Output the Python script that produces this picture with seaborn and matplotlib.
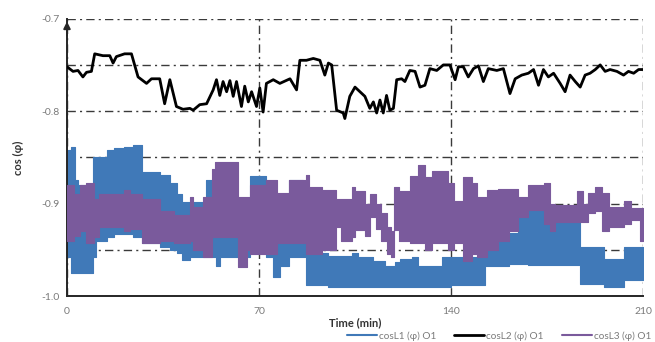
import numpy as np
import pandas as pd
import seaborn as sns
import matplotlib
matplotlib.use("Agg")
import matplotlib.pyplot as plt
from matplotlib.lines import Line2D

# ---- data ----
series_labels = ["cosL1 (φ) O1", "cosL2 (φ) O1", "cosL3 (φ) O1"]
x_ticks = [0, 70, 140, 210]
y_ticks = [-1.0, -0.9, -0.8, -0.7]
y_tick_labels = ["-1.0", "-0.9", "-0.8", "-0.7"]

# L2 (black): a smooth line
l2_t = [0, 2.2, 4.0, 5.8, 7.1, 8.9, 10.1, 13.1, 15.6, 16.8, 18.0, 21.0, 23.5, 25.9, 29.0,
        30.8, 33.8, 35.6, 37.5, 39.9, 42.3, 44.8, 46.0, 48.4, 50.9, 53.3, 54.5, 55.7, 56.9,
        58.2, 59.4, 60.6, 61.8, 63.6, 64.8, 66.1, 67.3, 69.1, 70.3, 71.5, 72.7, 75.2, 77.6,
        81.3, 83.7, 84.9, 87.3, 89.8, 92.2, 94.0, 95.3, 96.5, 98.3, 100.7, 101.3, 103.1,
        105.0, 106.8, 108.6, 110.4, 111.7, 112.9, 114.1, 115.3, 116.5, 117.7, 119.0, 120.2,
        122.0, 123.2, 125.0, 126.9, 128.7, 130.5, 132.3, 134.8, 137.2, 139.6, 141.5, 142.7,
        144.5, 146.3, 148.2, 150.0, 151.8, 153.6, 156.7, 159.1, 161.5, 163.4, 165.8, 168.2,
        170.1, 171.9, 173.7, 175.5, 177.4, 179.8, 181.6, 183.4, 185.3, 187.1, 188.9, 190.7,
        192.6, 194.4, 196.2, 198.0, 200.5, 202.9, 204.7, 206.6, 208.4, 210.0]
l2_v = [-0.752, -0.757, -0.756, -0.763, -0.758, -0.757, -0.738, -0.740, -0.740, -0.748,
        -0.741, -0.738, -0.738, -0.763, -0.770, -0.765, -0.765, -0.792, -0.766, -0.795,
        -0.798, -0.797, -0.799, -0.793, -0.792, -0.777, -0.766, -0.783, -0.768, -0.779,
        -0.767, -0.784, -0.768, -0.795, -0.773, -0.790, -0.779, -0.795, -0.775, -0.801,
        -0.770, -0.766, -0.770, -0.765, -0.777, -0.745, -0.745, -0.743, -0.745, -0.761,
        -0.748, -0.750, -0.799, -0.802, -0.808, -0.784, -0.774, -0.779, -0.784, -0.797,
        -0.790, -0.802, -0.788, -0.802, -0.783, -0.799, -0.797, -0.766, -0.765, -0.768,
        -0.756, -0.757, -0.774, -0.772, -0.754, -0.756, -0.750, -0.750, -0.766, -0.752,
        -0.752, -0.763, -0.754, -0.751, -0.768, -0.754, -0.756, -0.754, -0.781, -0.765,
        -0.761, -0.759, -0.755, -0.772, -0.755, -0.763, -0.759, -0.770, -0.779, -0.761,
        -0.768, -0.774, -0.761, -0.759, -0.755, -0.750, -0.757, -0.755, -0.757, -0.761,
        -0.757, -0.759, -0.755, -0.755]

# L1 (blue) and L3 (purple) oscillate fast: read as upper / lower envelopes per segment
l1_t = [0.0, 1.5, 3.0, 4.0, 9.5, 10.5, 14.5, 17.0, 20.7, 24.0, 27.4, 33.8, 37.4, 40.0,
        42.0, 45.0, 50.5, 54.5, 55.7, 66.6, 72.4, 75.0, 77.5, 81.0, 86.0, 87.2, 95.0,
        103.8, 106.0, 111.5, 116.0, 119.6, 121.5, 125.7, 128.1, 136.6, 140.0, 151.0,
        152.5, 161.0, 164.3, 168.0, 187.2, 195.7, 203.0, 210.0]
l1_hi = [-0.842, -0.839, -0.875, -0.880, -0.850, -0.850, -0.842, -0.840, -0.839, -0.837,
         -0.866, -0.869, -0.878, -0.890, -0.898, -0.898, -0.875, -0.900, -0.900, -0.870,
         -0.900, -0.900, -0.900, -0.875, -0.900, -0.954, -0.957, -0.953, -0.958, -0.962,
         -0.968, -0.963, -0.960, -0.958, -0.968, -0.958, -0.958, -0.955, -0.940, -0.932,
         -0.914, -0.907, -0.947, -0.960, -0.947, -0.947]
l1_lo = [-0.958, -0.975, -0.975, -0.975, -0.958, -0.940, -0.936, -0.933, -0.933, -0.936,
         -0.943, -0.947, -0.950, -0.954, -0.961, -0.958, -0.958, -0.968, -0.958, -0.952,
         -0.958, -0.979, -0.968, -0.958, -0.958, -0.988, -0.990, -0.990, -0.990, -0.990,
         -0.990, -0.990, -0.990, -0.990, -0.990, -0.990, -0.988, -0.988, -0.968, -0.965,
         -0.965, -0.967, -0.987, -0.990, -0.983, -0.983]

l3_t = [0.0, 2.4, 4.9, 7.0, 9.7, 11.5, 17.0, 20.7, 23.1, 27.4, 33.8, 39.0, 44.7, 46.0,
        49.6, 53.0, 54.0, 62.5, 65.5, 66.6, 72.4, 76.4, 81.0, 87.0, 88.2, 93.1, 97.9,
        100.0, 103.8, 105.0, 108.5, 110.5, 112.5, 114.5, 116.5, 118.0, 119.3, 121.0,
        125.0, 128.0, 130.5, 133.0, 138.8, 141.0, 144.5, 147.5, 149.5, 153.0, 157.0,
        161.0, 164.3, 168.0, 173.8, 176.0, 178.0, 186.0, 188.0, 190.0, 192.5, 195.0,
        197.5, 203.0, 205.5, 209.0, 210.0]
l3_hi = [-0.880, -0.890, -0.880, -0.878, -0.895, -0.890, -0.890, -0.885, -0.890, -0.895,
         -0.908, -0.912, -0.893, -0.904, -0.893, -0.863, -0.855, -0.893, -0.893, -0.880,
         -0.875, -0.889, -0.875, -0.869, -0.882, -0.885, -0.895, -0.895, -0.882, -0.886,
         -0.900, -0.890, -0.900, -0.910, -0.925, -0.930, -0.882, -0.886, -0.870, -0.858,
         -0.871, -0.865, -0.878, -0.897, -0.871, -0.878, -0.893, -0.885, -0.884, -0.884,
         -0.893, -0.880, -0.878, -0.900, -0.902, -0.886, -0.900, -0.889, -0.882, -0.889,
         -0.904, -0.897, -0.905, -0.905, -0.905]
l3_lo = [-0.940, -0.935, -0.930, -0.943, -0.936, -0.925, -0.925, -0.930, -0.928, -0.943,
         -0.940, -0.943, -0.940, -0.950, -0.958, -0.936, -0.936, -0.969, -0.950, -0.955,
         -0.955, -0.943, -0.943, -0.955, -0.955, -0.950, -0.925, -0.940, -0.936, -0.929,
         -0.935, -0.915, -0.928, -0.940, -0.955, -0.958, -0.929, -0.940, -0.943, -0.943,
         -0.950, -0.943, -0.950, -0.943, -0.962, -0.955, -0.958, -0.950, -0.940, -0.930,
         -0.914, -0.907, -0.922, -0.930, -0.920, -0.920, -0.920, -0.910, -0.908, -0.930,
         -0.925, -0.922, -0.918, -0.940, -0.940]

# ---- style ----
sns.set_style("white")
plt.rcParams["font.family"] = ["Lato", "DejaVu Sans"]

BLUE = "#4079b8"
BLACK = "#000000"
PURPLE = "#7a5a9c"
GRID = "#3a3a3a"
TICKC = "#7a7a7a"

fig = plt.figure(figsize=(6.55, 3.42), dpi=100)
ax = fig.add_axes([67 / 655, 46 / 342, (643 - 67) / 655, (296 - 18.7) / 342])

ax.fill_between(l1_t, l1_hi, l1_lo, step="post", color=BLUE, lw=0.8, zorder=2)
ax.fill_between(l3_t, l3_hi, l3_lo, step="post", color=PURPLE, lw=0.8, zorder=3)
df2 = pd.DataFrame({"t": l2_t, "v": l2_v})
sns.lineplot(data=df2, x="t", y="v", color=BLACK, lw=2.0, ax=ax, zorder=4,
             estimator=None, sort=False)

ax.set_xlim(0, 210)
ax.set_ylim(-1.0, -0.7)
ax.set_xticks(x_ticks)
ax.set_xticklabels([str(v) for v in x_ticks])
ax.set_xticks([35, 105, 175], minor=True)
ax.set_yticks(y_ticks)
ax.set_yticklabels(y_tick_labels)
ax.set_yticks([-0.95, -0.85, -0.75], minor=True)

ax.grid(True, which="both", axis="y", color=GRID, lw=1.0, ls="-.", dashes=(6, 3, 1.5, 3))
ax.grid(True, which="major", axis="x", color=GRID, lw=1.0, ls="-.", dashes=(6, 3, 1.5, 3))
ax.set_axisbelow(True)

for s in ["top", "right"]:
    ax.spines[s].set_visible(False)
for s in ["left", "bottom"]:
    ax.spines[s].set_color("#262626")
    ax.spines[s].set_linewidth(1.4)
ax.tick_params(axis="both", which="both", length=2, width=1, color="#262626",
               labelcolor=TICKC, labelsize=7.5, pad=3)
ax.tick_params(axis="x", which="major", pad=6)

# arrow head on the y axis
ax.annotate("", xy=(0, 1.0), xytext=(0, 0.93), xycoords="axes fraction",
            arrowprops=dict(arrowstyle="-|>", color="#262626", lw=1.4,
                            mutation_scale=10), annotation_clip=False)

ax.set_xlabel("Time (min)", fontsize=8, fontweight="bold", color="#333333", labelpad=1)
ax.set_ylabel("cos (φ)", fontsize=8, fontweight="bold", color="#333333", labelpad=13)

handles = [Line2D([], [], color=BLUE, lw=1.5),
           Line2D([], [], color=BLACK, lw=2.0),
           Line2D([], [], color=PURPLE, lw=1.5)]
fig.legend(handles, series_labels, loc="center right", bbox_to_anchor=(653 / 655, 6 / 342),
           ncol=3, frameon=False, fontsize=7.2, handlelength=3.0, handletextpad=0.2,
           columnspacing=1.8, labelcolor="#7a7a7a", borderpad=0.1, borderaxespad=0.1)

fig.savefig("out.png", dpi=100)
